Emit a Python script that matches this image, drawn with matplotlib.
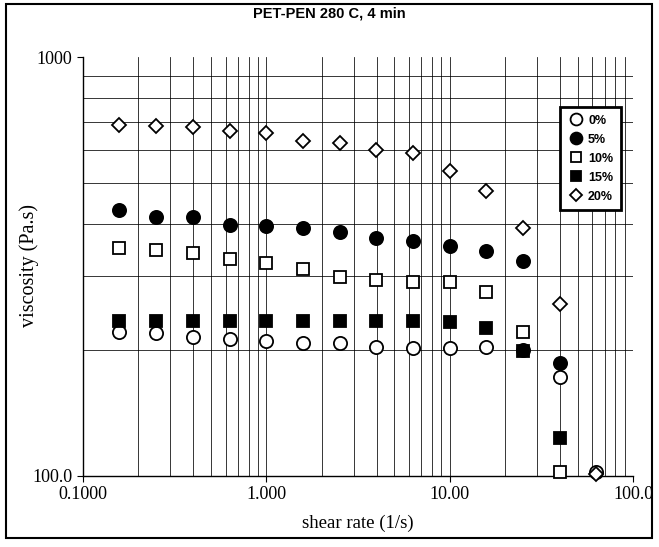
import matplotlib
matplotlib.use("Agg")
import matplotlib.pyplot as plt
from matplotlib.patches import Rectangle
from matplotlib.ticker import FixedLocator, NullFormatter, FixedFormatter

shear_rate = [0.158, 0.251, 0.398, 0.631, 1.0, 1.585, 2.512, 3.981, 6.31, 10.0, 15.85, 25.12, 39.81, 63.1]
visc_0 = [221, 219, 215, 212, 210, 208, 207, 203, 202, 202, 203, 200, 172, 102]
visc_5 = [431, 414, 414, 398, 394, 391, 381, 369, 364, 354, 345, 326, 186]
visc_10 = [349, 346, 340, 329, 322, 311, 299, 294, 290, 290, 274, 221, 102]
visc_15 = [234, 234, 234, 234, 234, 234, 234, 234, 234, 233, 225, 198, 123]
visc_20 = [688, 684, 682, 667, 657, 630, 624, 600, 589, 534, 479, 391, 257, 101]
labels = ["0%", "5%", "10%", "15%", "20%"]
xticks = [0.1, 1, 10, 100]
xticklabels = ["0.1000", "1.000", "10.00", "100.0"]
yticks = [100, 1000]
yticklabels = ["100.0", "1000"]

fig = plt.figure(figsize=(6.59, 5.47), dpi=100)
ax = fig.add_axes([83/659, 1-475.7/547, 550/659, 418.7/547])

series = [visc_0, visc_5, visc_10, visc_15, visc_20]
styles = [
    dict(marker="o", mfc="white", mec="black", ms=9.5, mew=1.3),
    dict(marker="o", mfc="black", mec="black", ms=9.5, mew=1.3),
    dict(marker="s", mfc="white", mec="black", ms=8.5, mew=1.3),
    dict(marker="s", mfc="black", mec="black", ms=8.5, mew=1.3),
    dict(marker="D", mfc="white", mec="black", ms=7.0, mew=1.3),
]
for vals, lab, st in zip(series, labels, styles):
    ax.plot(shear_rate[:len(vals)], vals, linestyle="none", label=lab, zorder=3, clip_on=False, **st)

ax.set_xscale("log")
ax.set_yscale("log")
ax.set_xlim(0.1, 100)
ax.set_ylim(100, 1000)
ax.xaxis.set_major_locator(FixedLocator(xticks))
ax.xaxis.set_major_formatter(FixedFormatter(xticklabels))
ax.xaxis.set_minor_formatter(NullFormatter())
ax.yaxis.set_major_locator(FixedLocator(yticks))
ax.yaxis.set_major_formatter(FixedFormatter(yticklabels))
ax.yaxis.set_minor_formatter(NullFormatter())

ax.grid(True, which="both", color="black", linewidth=0.55)
ax.tick_params(which="minor", length=0)
ax.tick_params(which="major", length=4, width=0.8, direction="out", labelsize=13)
for t in ax.get_xticklabels() + ax.get_yticklabels():
    t.set_fontfamily("Liberation Serif")
for sp in ["top", "right"]:
    ax.spines[sp].set_visible(False)
ygl = ax.yaxis.get_major_ticks()
ygl[-1].gridline.set_visible(False)
ax.spines["left"].set_linewidth(1.0)
ax.spines["bottom"].set_linewidth(1.0)

ax.set_xlabel("shear rate (1/s)", fontfamily="Liberation Serif", fontsize=13.5, labelpad=8)
ax.set_ylabel("viscosity (Pa.s)", fontfamily="Liberation Serif", fontsize=14.5)
ax.yaxis.set_label_coords(-0.08, 0.503)
fig.text(0.5, 1-13/547, "PET-PEN 280 C, 4 min", ha="center", va="center",
         fontfamily="Liberation Sans", fontweight="bold", fontsize=10.5)

leg = ax.legend(loc="upper right", bbox_to_anchor=(0.978, 0.881), frameon=True, fancybox=False,
                prop=dict(family="Liberation Sans", weight="bold", size=9),
                handletextpad=0.4, labelspacing=0.56, borderpad=0.62, handlelength=1.2,
                markerscale=0.9, borderaxespad=0)
leg.get_frame().set_edgecolor("black")
leg.get_frame().set_linewidth(2.0)
leg.get_frame().set_alpha(1)
leg.set_zorder(5)

fig.patches.append(Rectangle((6/659, 1-538/547), 646/659, 534/547, transform=fig.transFigure,
                             fill=False, edgecolor="black", linewidth=1.5))

fig.savefig("out.png", dpi=100)
